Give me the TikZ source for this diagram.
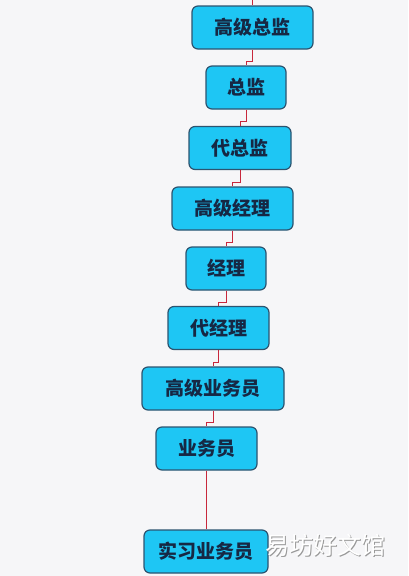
\documentclass[tikz,border=0pt]{standalone}
\usepackage{fontspec}
\newfontfamily\cjk{Noto Sans CJK SC}
\usetikzlibrary{positioning}
\definecolor{boxfill}{RGB}{30,198,244}
\definecolor{boxline}{RGB}{44,84,112}
\definecolor{boxtext}{RGB}{22,40,68}
\definecolor{linkred}{RGB}{200,40,60}
\definecolor{paper}{RGB}{246,246,248}

\begin{document}
\begin{tikzpicture}[x=1pt,y=1pt,yscale=-1,xscale=1,
		rank/.style={draw=boxline,line width=1.2pt,fill=boxfill,rounded corners=6pt,
			minimum height=43pt,inner sep=0pt,text=boxtext,
			font=\cjk\bfseries\fontsize{19}{22}\selectfont},
		link/.style={draw=linkred,line width=0.9pt}]
	%set diagram size: 408 x 576
	\fill[paper] (0,0) rectangle (408,576);
	\useasboundingbox (0,0) rectangle (408,576);
	
	% Rank boxes
	\node (b1) [rank,minimum width=121pt] at (252.5,27.5) {高级总监};
	\node (b2) [rank,minimum width=80pt] at (246,87.5) {总监};
	\node (b3) [rank,minimum width=102pt] at (240,148) {代总监};
	\node (b4) [rank,minimum width=121pt] at (232.5,208.5) {高级经理};
	\node (b5) [rank,minimum width=80pt] at (226,268.5) {经理};
	\node (b6) [rank,minimum width=101pt] at (218.5,328) {代经理};
	\node (b7) [rank,minimum width=142pt] at (213,388.5) {高级业务员};
	\node (b8) [rank,minimum width=101pt] at (206.5,448.5) {业务员};
	\node (b9) [rank,minimum width=124pt] at (206,551.5) {实习业务员};
	
	% Links
	\coordinate (top) at (252.5,0);
	\draw[link] (top) -- (b1.north);
	\foreach \a/\b in {b1/b2,b2/b3,b3/b4,b4/b5,b5/b6,b6/b7,b7/b8,b8/b9}
		\draw[link] (\a.south) -- ++(0,12) -| (\b.north);
	
	% Watermark
	\node (markshade) [anchor=west,text=black!40,font=\cjk\fontsize{24}{28}\selectfont] at (263,546) {易坊好文馆};
	\node (mark) [anchor=west,text=white,font=\cjk\fontsize{24}{28}\selectfont] at (262,545) {易坊好文馆};
\end{tikzpicture}
\end{document}
